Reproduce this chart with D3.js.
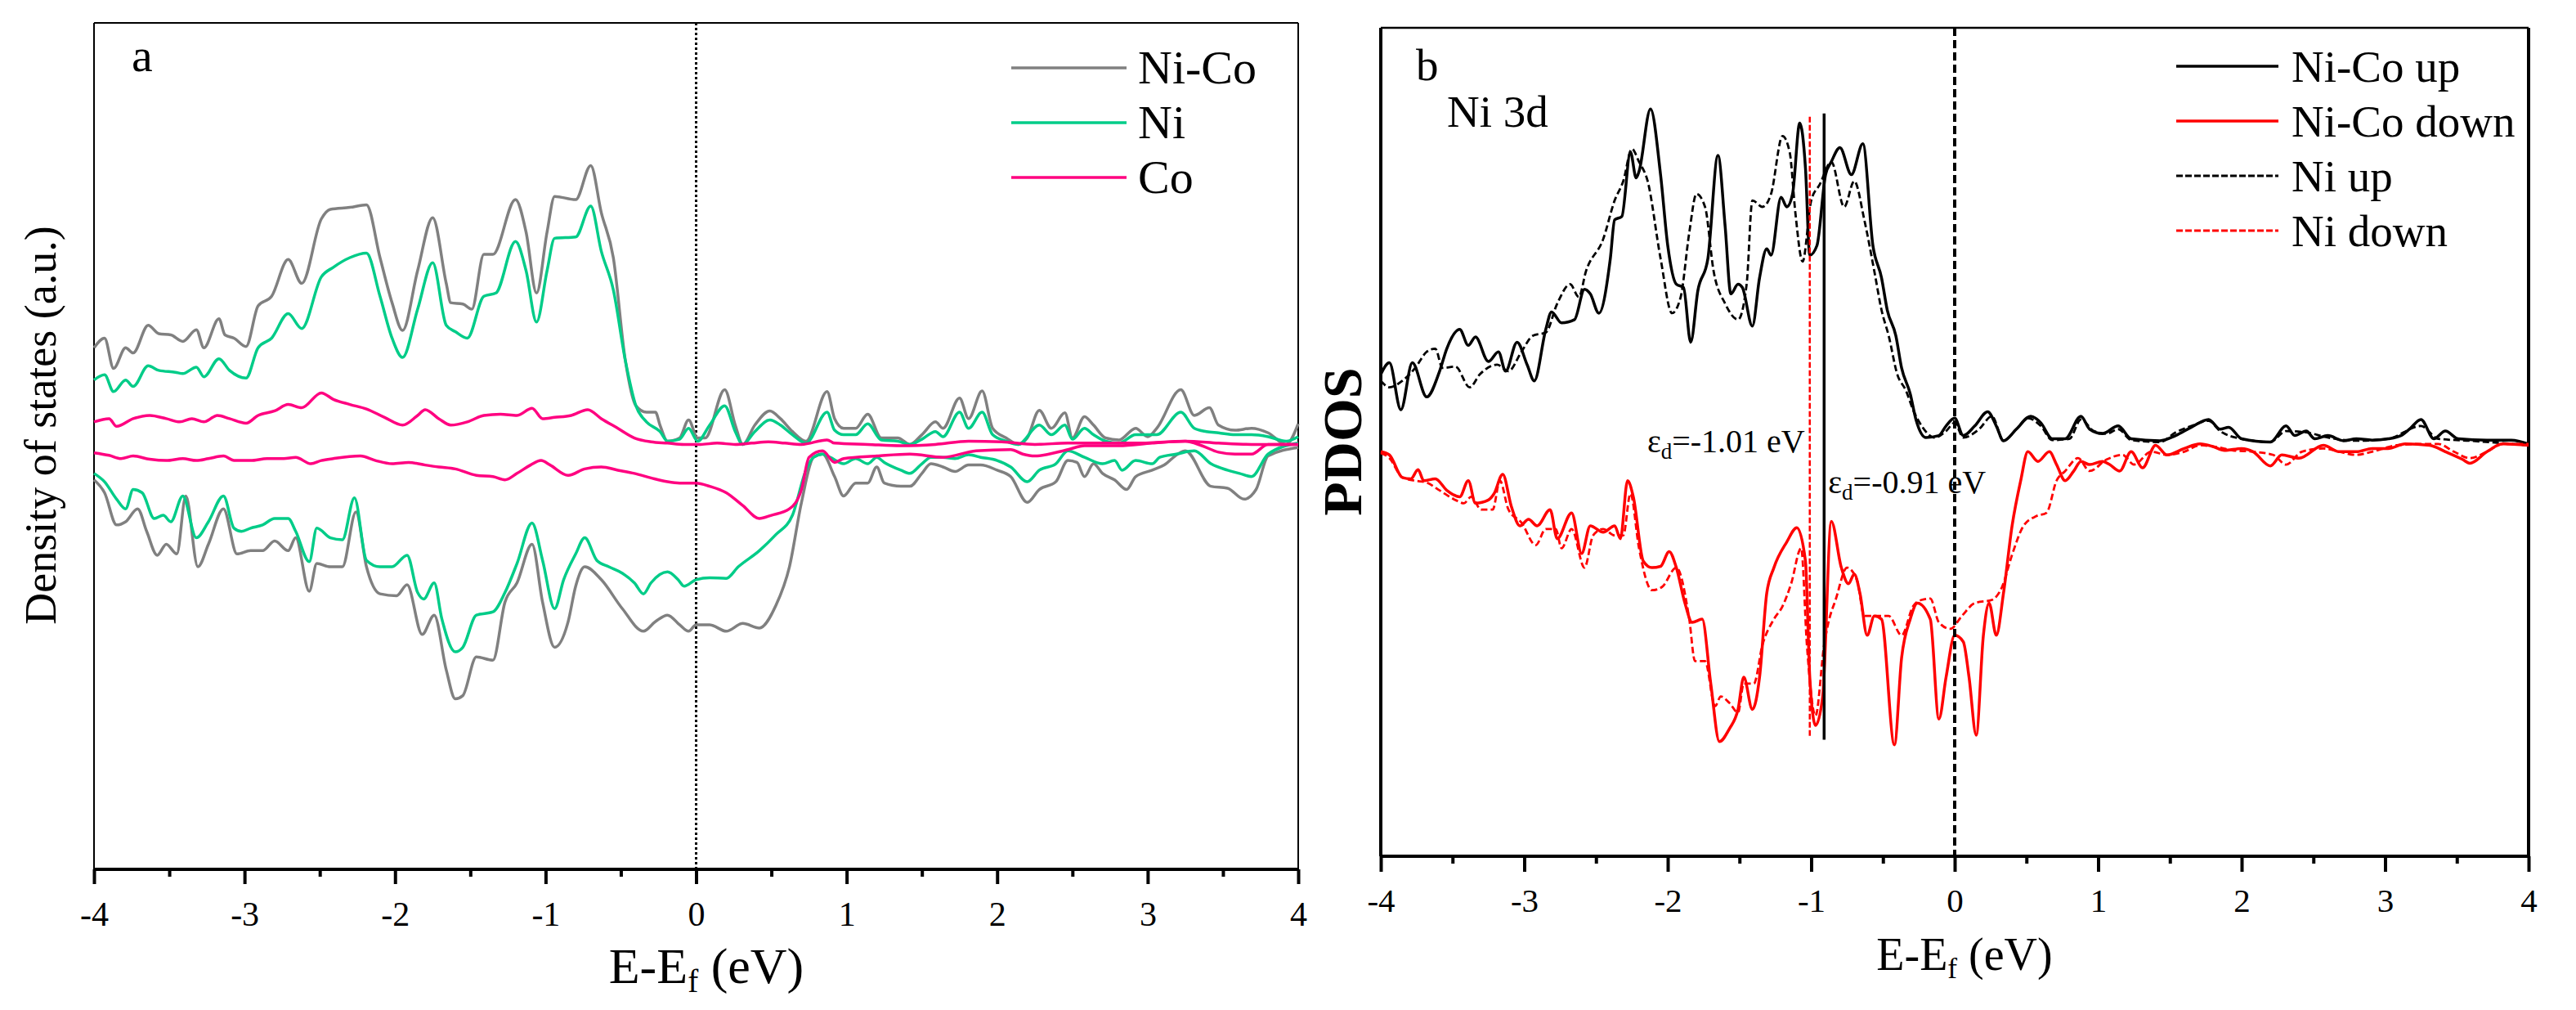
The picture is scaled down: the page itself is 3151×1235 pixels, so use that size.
<!DOCTYPE html>
<html><head><meta charset="utf-8">
<script src="https://cdn.jsdelivr.net/npm/d3@7/dist/d3.min.js"></script>
<style>
html,body{margin:0;padding:0;background:#fff;}
svg{display:block;}
text{font-family:"Liberation Serif","Times New Roman",serif;fill:#000;}
</style>
</head><body>
<svg id="chart" width="3151" height="1235"></svg>
<script>
// ---------- tick labels ----------
const energyTicks = [-4,-3,-2,-1,0,1,2,3,4];
const energyMinorTicks = [-3.5,-2.5,-1.5,-0.5,0.5,1.5,2.5,3.5];

// ---------- panel a: total DOS (arbitrary units), [E - Ef (eV), DOS] ----------
const niCoUpA = [[-4.00,16.0],[-3.93,17.5],[-3.87,12.8],[-3.79,16.0],[-3.74,15.2],[-3.64,19.5],[-3.57,18.2],[-3.49,18.0],[-3.41,17.0],[-3.32,18.8],[-3.27,16.0],[-3.17,20.5],[-3.13,18.0],[-3.07,17.5],[-2.99,16.2],[-2.91,22.5],[-2.82,24.0],[-2.71,29.7],[-2.62,26.0],[-2.49,36.0],[-2.43,37.5],[-2.30,37.8],[-2.19,38.2],[-2.10,30.0],[-2.02,23.0],[-1.95,18.7],[-1.85,28.0],[-1.75,36.2],[-1.66,26.0],[-1.63,23.0],[-1.55,22.8],[-1.49,22.0],[-1.41,30.5],[-1.35,30.5],[-1.20,39.0],[-1.13,34.0],[-1.06,24.5],[-0.99,34.0],[-0.94,39.5],[-0.80,39.0],[-0.70,44.3],[-0.63,37.0],[-0.55,30.0],[-0.47,14.0],[-0.40,7.0],[-0.33,6.0],[-0.27,6.0],[-0.24,4.0],[-0.19,1.5],[-0.11,2.0],[-0.05,4.8],[0.01,2.0],[0.06,2.0],[0.19,9.5],[0.26,4.0],[0.31,1.0],[0.39,4.0],[0.49,6.2],[0.56,5.0],[0.64,3.0],[0.73,1.5],[0.87,9.2],[0.92,5.0],[0.98,3.5],[1.06,3.5],[1.14,5.7],[1.23,2.0],[1.34,2.0],[1.42,1.0],[1.50,2.5],[1.59,4.5],[1.64,3.5],[1.75,8.2],[1.81,5.0],[1.90,9.3],[1.97,3.5],[2.06,2.0],[2.14,1.0],[2.20,2.0],[2.28,6.3],[2.36,3.5],[2.45,5.9],[2.50,2.0],[2.58,5.3],[2.64,4.0],[2.72,2.0],[2.81,1.7],[2.92,3.5],[3.00,2.2],[3.06,3.5],[3.22,9.5],[3.31,5.5],[3.41,6.7],[3.47,4.0],[3.58,3.2],[3.69,3.5],[3.80,2.8],[3.92,1.0],[4.00,4.2]];
const niUpA = [[-4.00,11.0],[-3.93,11.8],[-3.87,9.2],[-3.79,11.0],[-3.74,10.0],[-3.64,13.2],[-3.57,12.5],[-3.46,12.2],[-3.41,12.0],[-3.32,13.0],[-3.27,11.5],[-3.17,14.3],[-3.10,12.5],[-2.99,11.3],[-2.91,16.0],[-2.82,17.5],[-2.71,21.3],[-2.62,19.0],[-2.49,27.0],[-2.41,28.5],[-2.30,30.0],[-2.19,30.7],[-2.10,24.0],[-2.02,17.5],[-1.95,14.5],[-1.85,22.0],[-1.75,29.2],[-1.66,19.5],[-1.60,18.5],[-1.52,17.5],[-1.41,24.0],[-1.33,24.5],[-1.20,32.5],[-1.13,28.0],[-1.06,20.0],[-0.99,28.0],[-0.94,33.0],[-0.80,33.2],[-0.70,38.0],[-0.63,31.0],[-0.55,25.0],[-0.47,14.0],[-0.40,7.0],[-0.33,4.5],[-0.24,3.0],[-0.19,1.5],[-0.11,1.8],[-0.05,3.5],[0.01,1.5],[0.09,4.0],[0.19,7.0],[0.26,3.0],[0.31,1.0],[0.39,3.0],[0.49,4.8],[0.56,4.0],[0.64,2.5],[0.73,1.2],[0.87,6.0],[0.92,3.2],[0.98,2.5],[1.06,2.5],[1.14,4.2],[1.23,1.7],[1.34,1.5],[1.42,1.0],[1.50,1.8],[1.59,3.0],[1.64,2.2],[1.75,6.0],[1.81,3.5],[1.90,6.0],[1.97,2.5],[2.06,1.5],[2.14,1.0],[2.28,4.0],[2.36,2.5],[2.45,4.0],[2.50,1.8],[2.58,3.5],[2.64,2.5],[2.72,1.5],[2.81,1.2],[2.92,2.5],[3.06,2.5],[3.22,6.0],[3.31,3.5],[3.39,3.0],[3.47,2.8],[3.58,2.5],[3.69,2.5],[3.80,2.2],[3.92,1.5],[4.00,2.2]];
const coUpA = [[-4.00,4.5],[-3.90,5.0],[-3.85,3.8],[-3.74,5.0],[-3.63,5.5],[-3.52,5.0],[-3.43,4.5],[-3.35,5.0],[-3.27,4.5],[-3.18,5.5],[-3.10,5.0],[-2.99,4.3],[-2.91,5.5],[-2.80,6.2],[-2.71,7.2],[-2.62,6.7],[-2.49,9.0],[-2.41,8.0],[-2.30,7.2],[-2.19,6.5],[-2.07,5.2],[-1.95,4.0],[-1.85,5.5],[-1.80,6.4],[-1.71,5.0],[-1.63,4.0],[-1.52,4.5],[-1.41,5.5],[-1.30,5.7],[-1.19,5.5],[-1.09,6.6],[-1.02,5.0],[-0.94,5.2],[-0.83,5.5],[-0.72,6.4],[-0.63,5.0],[-0.52,3.5],[-0.41,2.0],[-0.30,1.4],[-0.19,1.2],[-0.08,1.0],[0.03,1.0],[0.14,1.2],[0.26,1.0],[0.37,1.2],[0.48,1.4],[0.59,1.2],[0.70,1.0],[0.87,1.7],[0.92,1.2],[1.14,1.0],[1.36,0.8],[1.59,1.0],[1.81,1.5],[2.03,1.4],[2.25,1.0],[2.47,1.2],[2.70,1.2],[2.92,1.2],[3.25,1.5],[3.47,1.2],[3.69,1.0],[4.00,1.0]];
const niCoDownA = [[-4.00,-4.5],[-3.93,-6.5],[-3.85,-11.5],[-3.79,-11.0],[-3.71,-9.0],[-3.65,-12.5],[-3.58,-16.2],[-3.52,-14.5],[-3.45,-16.0],[-3.39,-7.0],[-3.31,-18.0],[-3.24,-14.5],[-3.14,-9.0],[-3.05,-16.0],[-2.96,-15.5],[-2.88,-15.5],[-2.80,-14.0],[-2.71,-15.5],[-2.66,-13.5],[-2.57,-21.8],[-2.52,-17.5],[-2.43,-18.0],[-2.35,-18.0],[-2.26,-9.5],[-2.19,-18.0],[-2.10,-22.2],[-1.99,-22.5],[-1.92,-20.8],[-1.82,-28.5],[-1.74,-25.5],[-1.66,-34.0],[-1.60,-38.5],[-1.55,-38.0],[-1.46,-32.0],[-1.35,-32.5],[-1.27,-23.5],[-1.19,-20.5],[-1.09,-14.5],[-1.02,-23.5],[-0.94,-30.5],[-0.85,-26.5],[-0.80,-21.0],[-0.74,-18.0],[-0.63,-20.0],[-0.49,-24.5],[-0.35,-28.0],[-0.27,-26.5],[-0.19,-25.5],[-0.11,-27.0],[-0.05,-28.0],[0.00,-27.0],[0.09,-27.0],[0.20,-28.0],[0.31,-26.8],[0.42,-27.5],[0.53,-24.0],[0.62,-18.0],[0.70,-8.0],[0.78,-1.0],[0.84,-0.5],[0.92,-4.0],[0.98,-7.0],[1.06,-5.0],[1.14,-5.0],[1.20,-2.5],[1.25,-5.0],[1.36,-5.5],[1.42,-5.5],[1.50,-3.5],[1.56,-2.0],[1.64,-2.5],[1.72,-3.2],[1.81,-2.2],[1.89,-2.2],[2.00,-3.0],[2.09,-4.0],[2.20,-8.0],[2.28,-6.0],[2.39,-4.8],[2.47,-1.5],[2.53,-1.8],[2.58,-4.0],[2.64,-2.0],[2.70,-3.5],[2.78,-4.5],[2.86,-6.0],[2.92,-4.0],[3.03,-3.0],[3.11,-2.2],[3.20,-0.5],[3.25,0.0],[3.42,-5.5],[3.53,-5.8],[3.64,-7.5],[3.72,-6.0],[3.80,-0.8],[4.00,0.5]];
const niDownA = [[-4.00,-3.5],[-3.93,-4.8],[-3.85,-7.5],[-3.79,-9.0],[-3.74,-6.0],[-3.68,-6.5],[-3.60,-10.5],[-3.54,-10.0],[-3.49,-11.0],[-3.41,-7.0],[-3.32,-13.5],[-3.24,-11.0],[-3.14,-7.0],[-3.07,-12.0],[-3.02,-12.5],[-2.96,-12.0],[-2.88,-11.5],[-2.80,-10.5],[-2.71,-10.5],[-2.66,-12.5],[-2.57,-17.2],[-2.52,-12.0],[-2.43,-13.5],[-2.35,-13.8],[-2.27,-7.3],[-2.19,-17.0],[-2.10,-18.0],[-2.02,-18.0],[-1.92,-16.2],[-1.85,-22.0],[-1.81,-23.0],[-1.74,-20.5],[-1.69,-26.0],[-1.60,-31.2],[-1.55,-30.5],[-1.46,-25.5],[-1.35,-25.0],[-1.27,-22.0],[-1.19,-17.5],[-1.09,-11.2],[-1.02,-17.0],[-0.94,-24.5],[-0.88,-20.0],[-0.80,-16.0],[-0.74,-13.5],[-0.66,-17.0],[-0.58,-18.0],[-0.49,-19.0],[-0.41,-20.5],[-0.35,-22.2],[-0.30,-20.5],[-0.19,-18.8],[-0.12,-20.0],[-0.08,-21.0],[0.00,-20.0],[0.09,-19.7],[0.20,-19.8],[0.28,-18.0],[0.42,-15.5],[0.53,-13.0],[0.64,-10.0],[0.73,-3.0],[0.78,-1.0],[0.84,-0.5],[0.89,-1.0],[0.98,-2.0],[1.06,-1.2],[1.14,-2.0],[1.20,-1.0],[1.25,-1.8],[1.36,-3.0],[1.42,-3.5],[1.50,-2.0],[1.56,-1.0],[1.64,-1.0],[1.72,-1.2],[1.81,-0.6],[1.89,-1.0],[2.00,-1.5],[2.09,-2.5],[2.20,-4.8],[2.28,-3.0],[2.39,-2.0],[2.47,0.0],[2.58,-1.0],[2.70,-2.0],[2.78,-1.5],[2.83,-3.0],[2.92,-1.5],[3.03,-2.0],[3.08,-1.0],[3.19,-0.5],[3.31,0.0],[3.42,-2.0],[3.53,-3.0],[3.61,-3.5],[3.69,-4.0],[3.80,-0.5],[4.00,1.2]];
const coDownA = [[-4.00,-0.3],[-3.90,-0.7],[-3.82,-1.2],[-3.74,-0.8],[-3.63,-1.3],[-3.52,-1.5],[-3.41,-1.2],[-3.32,-1.5],[-3.24,-1.2],[-3.14,-0.8],[-3.07,-1.5],[-2.96,-1.5],[-2.85,-1.2],[-2.74,-1.2],[-2.66,-1.0],[-2.56,-2.0],[-2.49,-1.5],[-2.41,-1.2],[-2.23,-0.8],[-2.13,-1.5],[-2.02,-2.0],[-1.91,-1.8],[-1.80,-2.2],[-1.71,-2.5],[-1.60,-2.8],[-1.46,-3.8],[-1.35,-4.0],[-1.27,-4.5],[-1.19,-3.5],[-1.10,-2.2],[-1.03,-1.5],[-0.97,-2.2],[-0.85,-3.8],[-0.74,-2.8],[-0.63,-2.5],[-0.52,-3.0],[-0.41,-3.5],[-0.30,-4.2],[-0.19,-4.8],[-0.11,-5.0],[0.00,-5.0],[0.09,-5.5],[0.20,-6.5],[0.31,-8.5],[0.42,-10.5],[0.50,-10.0],[0.62,-9.0],[0.70,-6.0],[0.75,-1.0],[0.84,0.0],[0.92,-1.8],[0.98,-1.2],[1.20,-0.8],[1.42,-0.5],[1.64,-1.0],[1.86,0.0],[2.09,0.2],[2.17,-0.5],[2.25,-0.8],[2.47,0.2],[2.58,0.8],[2.81,0.8],[3.03,1.2],[3.25,1.5],[3.36,0.8],[3.47,-0.2],[3.58,-0.5],[3.69,-0.5],[3.80,1.0],[4.00,1.0]];

// ---------- panel b: Ni 3d PDOS (arbitrary units) ----------
const niCoUpB = [[-4.00,10.5],[-3.94,12.3],[-3.86,5.0],[-3.78,12.3],[-3.68,7.0],[-3.59,11.0],[-3.54,14.5],[-3.45,17.5],[-3.39,15.0],[-3.34,16.3],[-3.25,12.5],[-3.18,14.0],[-3.13,11.0],[-3.05,15.5],[-2.98,12.0],[-2.93,9.5],[-2.85,17.5],[-2.81,20.2],[-2.74,18.5],[-2.65,19.0],[-2.58,23.7],[-2.54,23.0],[-2.48,20.0],[-2.40,28.5],[-2.37,34.5],[-2.32,35.0],[-2.26,45.0],[-2.22,41.0],[-2.20,42.0],[-2.12,51.7],[-2.05,41.5],[-2.00,30.5],[-1.94,24.5],[-1.89,24.0],[-1.84,15.5],[-1.79,23.5],[-1.72,28.5],[-1.65,44.5],[-1.60,33.5],[-1.56,23.0],[-1.51,24.5],[-1.48,24.0],[-1.41,18.0],[-1.36,25.5],[-1.31,30.0],[-1.28,29.0],[-1.21,38.0],[-1.17,36.5],[-1.13,38.5],[-1.08,49.5],[-1.04,42.5],[-1.01,29.0],[-0.96,30.5],[-0.90,41.5],[-0.86,43.5],[-0.80,45.7],[-0.72,41.5],[-0.64,46.3],[-0.57,30.5],[-0.51,25.5],[-0.47,20.5],[-0.41,16.5],[-0.37,11.5],[-0.31,7.5],[-0.27,3.5],[-0.20,0.7],[-0.11,1.0],[-0.06,2.5],[0.00,3.7],[0.06,1.0],[0.14,2.5],[0.23,4.7],[0.29,2.5],[0.34,0.2],[0.43,2.0],[0.53,4.0],[0.60,3.0],[0.68,0.5],[0.77,0.5],[0.88,4.0],[0.94,2.0],[1.03,1.3],[1.14,2.5],[1.23,0.5],[1.43,0.2],[1.54,1.0],[1.65,2.3],[1.77,3.5],[1.85,2.0],[1.91,2.3],[2.00,0.5],[2.20,0.0],[2.31,2.5],[2.37,1.0],[2.45,1.7],[2.51,0.5],[2.60,1.0],[2.71,0.2],[2.80,0.5],[2.91,0.3],[3.02,0.5],[3.11,1.0],[3.17,2.0],[3.25,3.5],[3.34,0.5],[3.42,1.7],[3.51,0.5],[3.71,0.3],[3.88,0.3],[4.00,-0.3]];
const niUpB = [[-4.00,9.5],[-3.94,8.5],[-3.85,9.5],[-3.76,11.5],[-3.68,14.0],[-3.62,14.5],[-3.57,11.5],[-3.48,11.7],[-3.38,8.5],[-3.31,10.5],[-3.19,12.0],[-3.11,11.0],[-3.02,14.0],[-2.94,16.5],[-2.85,17.0],[-2.77,21.5],[-2.68,24.5],[-2.62,22.5],[-2.57,26.5],[-2.45,31.5],[-2.37,37.5],[-2.31,40.5],[-2.25,45.5],[-2.20,43.5],[-2.14,40.5],[-2.05,28.5],[-1.97,20.0],[-1.91,22.5],[-1.85,32.5],[-1.80,38.5],[-1.74,36.5],[-1.68,26.5],[-1.60,21.5],[-1.51,19.0],[-1.45,24.5],[-1.41,37.5],[-1.34,36.5],[-1.28,38.5],[-1.20,47.5],[-1.15,45.0],[-1.11,35.5],[-1.06,28.0],[-1.00,37.5],[-0.94,40.0],[-0.86,43.5],[-0.77,36.5],[-0.70,40.5],[-0.63,34.5],[-0.56,26.5],[-0.51,20.5],[-0.46,16.5],[-0.40,10.5],[-0.34,8.0],[-0.29,5.0],[-0.23,2.5],[-0.14,0.7],[-0.06,1.7],[0.00,3.0],[0.06,0.7],[0.17,2.0],[0.26,4.0],[0.34,0.2],[0.43,2.0],[0.51,3.7],[0.60,2.5],[0.68,0.3],[0.80,0.5],[0.88,3.5],[0.97,1.7],[1.06,1.3],[1.14,2.0],[1.23,0.3],[1.43,0.0],[1.54,1.5],[1.65,2.5],[1.77,3.3],[1.85,1.7],[2.00,0.5],[2.20,0.0],[2.31,1.7],[2.45,1.5],[2.60,0.7],[2.80,0.2],[3.02,0.5],[3.25,2.5],[3.37,0.5],[3.59,0.2],[4.00,-0.5]];
const niCoDownB = [[-4.00,-1.5],[-3.94,-2.0],[-3.85,-5.5],[-3.79,-5.7],[-3.74,-4.3],[-3.70,-6.0],[-3.62,-5.7],[-3.54,-7.5],[-3.45,-8.5],[-3.39,-6.0],[-3.34,-9.5],[-3.25,-9.0],[-3.21,-8.0],[-3.15,-5.0],[-3.09,-10.0],[-3.03,-13.0],[-2.97,-12.0],[-2.91,-13.0],[-2.82,-10.5],[-2.77,-15.0],[-2.67,-11.0],[-2.60,-17.3],[-2.54,-13.0],[-2.45,-14.0],[-2.37,-13.0],[-2.33,-15.0],[-2.28,-6.0],[-2.24,-8.5],[-2.17,-18.5],[-2.11,-19.5],[-2.05,-19.3],[-1.99,-17.0],[-1.94,-19.5],[-1.88,-25.0],[-1.83,-28.0],[-1.76,-27.5],[-1.70,-37.5],[-1.64,-46.5],[-1.57,-44.5],[-1.51,-41.5],[-1.47,-36.5],[-1.41,-41.5],[-1.36,-36.5],[-1.31,-23.5],[-1.26,-19.5],[-1.17,-15.5],[-1.10,-13.3],[-1.04,-18.5],[-1.01,-36.5],[-0.97,-44.0],[-0.92,-39.5],[-0.86,-12.3],[-0.79,-19.5],[-0.74,-22.0],[-0.70,-20.5],[-0.66,-23.5],[-0.61,-30.0],[-0.56,-27.0],[-0.51,-27.5],[-0.42,-47.0],[-0.37,-33.5],[-0.31,-27.5],[-0.26,-25.0],[-0.17,-27.5],[-0.11,-43.0],[-0.06,-36.5],[0.00,-30.0],[0.06,-31.0],[0.10,-36.5],[0.15,-45.5],[0.20,-30.0],[0.24,-25.0],[0.29,-30.0],[0.34,-23.5],[0.40,-13.0],[0.46,-6.0],[0.51,-1.5],[0.58,-3.0],[0.66,-1.5],[0.71,-3.5],[0.77,-6.0],[0.83,-4.5],[0.88,-3.0],[0.94,-3.5],[1.03,-3.0],[1.08,-3.5],[1.15,-4.5],[1.23,-1.5],[1.31,-4.0],[1.40,-0.5],[1.48,-2.0],[1.60,-1.0],[1.71,-0.3],[1.80,-0.7],[1.88,-1.3],[2.00,-1.0],[2.08,-1.5],[2.20,-3.7],[2.28,-2.0],[2.40,-2.5],[2.57,-0.5],[2.68,-1.5],[2.80,-1.5],[2.91,-1.0],[3.02,-1.0],[3.14,-0.3],[3.31,-0.5],[3.42,-1.5],[3.54,-2.7],[3.59,-3.3],[3.71,-1.5],[3.82,-0.3],[4.00,-0.5]];
const niDownB = [[-4.00,-1.7],[-3.94,-2.5],[-3.85,-5.5],[-3.76,-6.0],[-3.68,-6.3],[-3.59,-7.5],[-3.48,-9.0],[-3.42,-9.5],[-3.37,-8.5],[-3.30,-10.5],[-3.22,-10.5],[-3.17,-6.0],[-3.11,-10.5],[-3.02,-12.5],[-2.92,-16.0],[-2.85,-13.5],[-2.78,-13.5],[-2.74,-16.5],[-2.67,-13.5],[-2.58,-19.5],[-2.52,-14.5],[-2.45,-13.5],[-2.37,-14.5],[-2.31,-14.5],[-2.26,-8.0],[-2.20,-16.5],[-2.11,-23.0],[-2.04,-22.5],[-1.94,-19.5],[-1.85,-27.5],[-1.81,-34.0],[-1.74,-34.0],[-1.67,-41.0],[-1.63,-39.5],[-1.57,-40.5],[-1.51,-42.0],[-1.47,-37.5],[-1.40,-37.5],[-1.34,-31.5],[-1.26,-27.5],[-1.20,-25.5],[-1.14,-22.0],[-1.07,-16.5],[-1.03,-31.5],[-0.97,-42.5],[-0.91,-31.5],[-0.88,-28.0],[-0.83,-24.5],[-0.75,-19.5],[-0.68,-21.5],[-0.63,-27.0],[-0.54,-27.0],[-0.46,-27.0],[-0.37,-30.0],[-0.29,-25.5],[-0.23,-24.5],[-0.17,-24.3],[-0.11,-28.0],[-0.03,-29.0],[0.05,-27.0],[0.14,-25.0],[0.26,-24.5],[0.33,-22.5],[0.40,-17.5],[0.48,-13.0],[0.57,-11.5],[0.64,-11.0],[0.71,-6.0],[0.77,-4.5],[0.86,-2.5],[0.94,-4.5],[1.06,-2.7],[1.17,-2.0],[1.25,-3.5],[1.37,-1.5],[1.48,-2.0],[1.60,-1.5],[1.71,-0.5],[1.83,-0.8],[1.94,-1.3],[2.08,-1.5],[2.22,-2.0],[2.31,-3.5],[2.42,-1.5],[2.57,-1.0],[2.68,-1.5],[2.80,-2.0],[2.91,-1.5],[3.08,-0.5],[3.25,-0.3],[3.37,-0.3],[3.48,-1.5],[3.59,-2.5],[3.71,-1.5],[3.82,-0.3],[4.00,-0.3]];

// d-band centres (eV) and the PDOS span of their marker lines
const dBandCentres = [
  {name:"Ni", energy:-1.01, top:50.5, bottom:-46.0, color:"#ff0000", dash:"7,3", width:2.5, label:"-1.01 eV"},
  {name:"Ni-Co", energy:-0.91, top:51.0, bottom:-46.2, color:"#000000", dash:null, width:3.5, label:"-0.91 eV"}
];

// ---------- drawing ----------
const svg = d3.select("#chart");
const FONT = '"Liberation Serif","Times New Roman",serif';

function makePanel(cfg){
  const x = d3.scaleLinear().domain([-4,4]).range([cfg.left, cfg.right]);
  const y = d3.scaleLinear().domain(cfg.yDomain).range([cfg.bottom, cfg.top]);
  const g = svg.append("g");
  const major = d3.axisBottom(x).tickValues(energyTicks).tickSize(cfg.majorLen).tickFormat(d => String(d));
  const minor = d3.axisBottom(x).tickValues(energyMinorTicks).tickSize(cfg.minorLen).tickFormat("");
  const ga = g.append("g").attr("transform", `translate(0,${cfg.bottom})`).call(major);
  const gm = g.append("g").attr("transform", `translate(0,${cfg.bottom})`).call(minor);
  [ga, gm].forEach(s => { s.select(".domain").remove(); s.selectAll("line").attr("stroke","#000").attr("stroke-width",4); });
  ga.selectAll("text").attr("y", cfg.tickLabelOffset).attr("dy", 0)
    .attr("font-size", cfg.tickFont).attr("font-family", FONT).attr("fill","#000");
  const fr = g.append("g").attr("stroke","#000").attr("fill","none");
  fr.append("line").attr("x1",cfg.left).attr("x2",cfg.right).attr("y1",cfg.top).attr("y2",cfg.top).attr("stroke-width",cfg.frame.top);
  fr.append("line").attr("x1",cfg.left).attr("x2",cfg.right).attr("y1",cfg.bottom).attr("y2",cfg.bottom).attr("stroke-width",cfg.frame.bottom);
  fr.append("line").attr("x1",cfg.left).attr("x2",cfg.left).attr("y1",cfg.top).attr("y2",cfg.bottom).attr("stroke-width",cfg.frame.left);
  fr.append("line").attr("x1",cfg.right).attr("x2",cfg.right).attr("y1",cfg.top).attr("y2",cfg.bottom).attr("stroke-width",cfg.frame.right);
  return {x, y, g};
}

function curve(p, data, color, width, dash){
  const line = d3.line().x(d => p.x(d[0])).y(d => p.y(d[1])).curve(d3.curveMonotoneX);
  p.g.append("path").datum(data).attr("d", line).attr("fill","none")
    .attr("stroke", color).attr("stroke-width", width)
    .attr("stroke-dasharray", dash || null).attr("stroke-linejoin","round");
}

function xTitle(p, cx, baseline, size){
  const t = p.g.append("text").attr("x", cx).attr("y", baseline).attr("text-anchor","middle")
    .attr("font-size", size).attr("font-family", FONT);
  t.append("tspan").text("E-E");
  t.append("tspan").attr("font-size", size*0.63).attr("dy", size*0.18).text("f");
  t.append("tspan").attr("dy", -size*0.18).text(" (eV)");
}

// ===== Panel a =====
const colA = {niCo:"#808080", ni:"#00cc88", co:"#ff0080"};
const pA = makePanel({left:115, right:1588, top:28, bottom:1063, yDomain:[-64.97, 66.44],
  majorLen:18, minorLen:9, tickLabelOffset:69, tickFont:42,
  frame:{top:2, bottom:4, left:2, right:2}});
pA.g.append("line").attr("x1",pA.x(0)).attr("x2",pA.x(0)).attr("y1",28).attr("y2",1063)
  .attr("stroke","#000").attr("stroke-width",3).attr("stroke-dasharray","3,3");
curve(pA, niCoUpA, colA.niCo, 3.5);
curve(pA, niCoDownA, colA.niCo, 3.5);
curve(pA, niUpA, colA.ni, 3.5);
curve(pA, niDownA, colA.ni, 3.5);
curve(pA, coUpA, colA.co, 3.5);
curve(pA, coDownA, colA.co, 3.5);
pA.g.append("text").attr("x",161).attr("y",87).attr("font-size",58).attr("font-family",FONT).text("a");
const legendA = [{label:"Ni-Co", color:colA.niCo},{label:"Ni", color:colA.ni},{label:"Co", color:colA.co}];
legendA.forEach((d,i) => {
  const yy = 83 + i*67;
  pA.g.append("line").attr("x1",1237).attr("x2",1378).attr("y1",yy).attr("y2",yy)
    .attr("stroke",d.color).attr("stroke-width",3.5);
  pA.g.append("text").attr("x",1392).attr("y",yy+19).attr("font-size",58).attr("font-family",FONT).text(d.label);
});
xTitle(pA, 864, 1202, 62);
pA.g.append("text").attr("transform","translate(68,520) rotate(-90)").attr("text-anchor","middle")
  .attr("font-size",54).attr("font-family",FONT).text("Density of states (a.u.)");

// ===== Panel b =====
const pB = makePanel({left:1689, right:3093, top:34, bottom:1047, yDomain:[-64.3, 64.3],
  majorLen:19, minorLen:9, tickLabelOffset:68, tickFont:41,
  frame:{top:2.5, bottom:4, left:4, right:4}});
curve(pB, niUpB, "#000000", 2.8, "8,4");
curve(pB, niCoUpB, "#000000", 3.5);
curve(pB, niDownB, "#ff0000", 2.8, "8,4");
curve(pB, niCoDownB, "#ff0000", 3.5);
pB.g.append("line").attr("x1",pB.x(0)).attr("x2",pB.x(0)).attr("y1",34).attr("y2",1047)
  .attr("stroke","#000").attr("stroke-width",4).attr("stroke-dasharray","10,5");
dBandCentres.forEach(d => {
  pB.g.append("line").attr("x1",pB.x(d.energy)).attr("x2",pB.x(d.energy))
    .attr("y1",pB.y(d.top)).attr("y2",pB.y(d.bottom))
    .attr("stroke",d.color).attr("stroke-width",d.width).attr("stroke-dasharray",d.dash);
});
function epsLabel(x, y, anchor, color, value){
  const t = pB.g.append("text").attr("x",x).attr("y",y).attr("text-anchor",anchor)
    .attr("font-size",40).attr("font-family",FONT).attr("fill",color);
  t.append("tspan").text("ε");
  t.append("tspan").attr("font-size",27).attr("dy",8).text("d");
  t.append("tspan").attr("dy",-8).text("=" + value);
}
epsLabel(pB.x(dBandCentres[0].energy) - 6, 553, "end", "#ff0000", dBandCentres[0].label);
epsLabel(pB.x(dBandCentres[1].energy) + 5, 603, "start", "#000000", dBandCentres[1].label);
pB.g.append("text").attr("x",1732).attr("y",98).attr("font-size",55).attr("font-family",FONT).text("b");
pB.g.append("text").attr("x",1770).attr("y",155).attr("font-size",55).attr("font-family",FONT).text("Ni 3d");
const legendB = [
  {label:"Ni-Co up", color:"#000000", dash:null},
  {label:"Ni-Co down", color:"#ff0000", dash:null},
  {label:"Ni up", color:"#000000", dash:"8,3"},
  {label:"Ni down", color:"#ff0000", dash:"8,3"}
];
legendB.forEach((d,i) => {
  const yy = 81 + i*67;
  pB.g.append("line").attr("x1",2662).attr("x2",2787).attr("y1",yy).attr("y2",yy)
    .attr("stroke",d.color).attr("stroke-width",d.dash ? 2.8 : 3.5).attr("stroke-dasharray",d.dash);
  pB.g.append("text").attr("x",2803).attr("y",yy+19).attr("font-size",55).attr("font-family",FONT).text(d.label);
});
xTitle(pB, 2403, 1186, 56);
pB.g.append("text").attr("transform","translate(1665,540) rotate(-90)").attr("text-anchor","middle")
  .attr("font-size",68).attr("font-weight","bold").attr("font-family",FONT).text("PDOS");
</script>
</body></html>
